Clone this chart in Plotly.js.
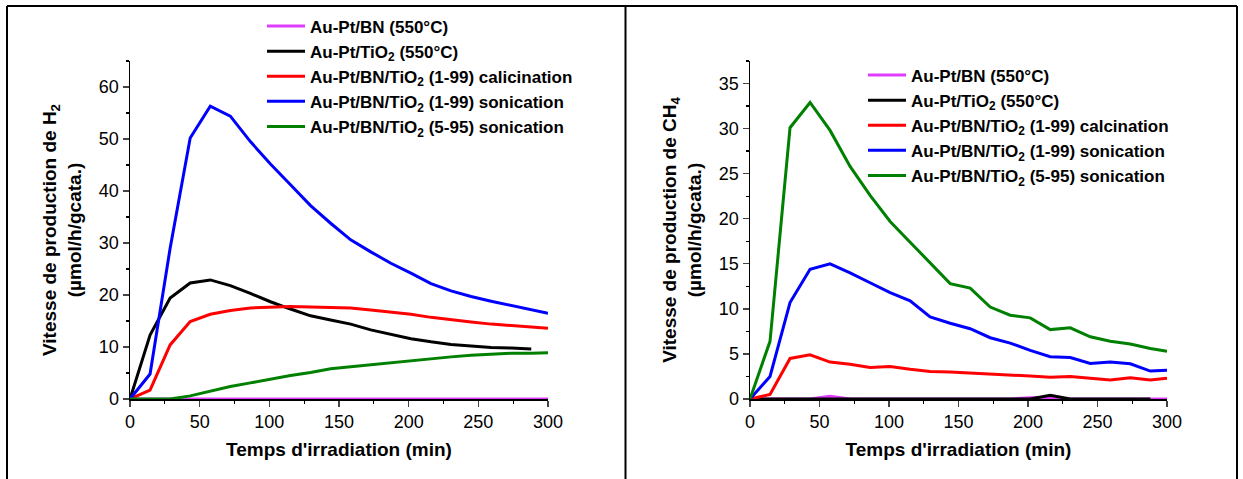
<!DOCTYPE html>
<html>
<head>
<meta charset="utf-8">
<script src="https://cdn.plot.ly/plotly-3.0.1.min.js"></script>
<style>
  html, body { margin: 0; padding: 0; background: #ffffff; }
  #chart { width: 1243px; height: 479px; }
</style>
</head>
<body>
<div id="chart"></div>
<script>
// ---- Data ----
// Irradiation times (min)
const times = [0, 14.4, 28.8, 43.2, 57.6, 72, 86.4, 100.8, 115.2, 129.6, 144, 158.4, 172.8, 187.2, 201.6, 216, 230.4, 244.8, 259.2, 273.6, 288, 300];

const seriesNames = [
  "Au-Pt/BN (550°C)",
  "Au-Pt/TiO<sub>2</sub> (550°C)",
  "Au-Pt/BN/TiO<sub>2</sub> (1-99) calicination",
  "Au-Pt/BN/TiO<sub>2</sub> (1-99) sonication",
  "Au-Pt/BN/TiO<sub>2</sub> (5-95) sonication"
];
const seriesNamesCH4 = [
  "Au-Pt/BN (550°C)",
  "Au-Pt/TiO<sub>2</sub> (550°C)",
  "Au-Pt/BN/TiO<sub>2</sub> (1-99) calcination",
  "Au-Pt/BN/TiO<sub>2</sub> (1-99) sonication",
  "Au-Pt/BN/TiO<sub>2</sub> (5-95) sonication"
];
const seriesColors = ["#e03cff", "#000000", "#ff0000", "#0000ff", "#008000"];

// H2 production rate (µmol/h/gcata.)
const h2_BN      = [0, 0, 0, 0, 0, 0, 0, 0, 0, 0, 0, 0, 0, 0, 0, 0, 0, 0, 0, 0, 0, 0];
const h2_TiO2    = [0, 12.3, 19.4, 22.3, 22.9, 21.8, 20.3, 18.7, 17.3, 16.0, 15.2, 14.4, 13.3, 12.4, 11.6, 11.0, 10.5, 10.2, 9.9, 9.8, 9.6];
const h2_calc199 = [0, 1.7, 10.4, 14.9, 16.3, 17.0, 17.5, 17.7, 17.8, 17.7, 17.6, 17.5, 17.1, 16.7, 16.3, 15.7, 15.2, 14.8, 14.4, 14.1, 13.8, 13.6];
const h2_son199  = [0, 4.8, 29.0, 50.2, 56.3, 54.4, 49.5, 45.2, 41.2, 37.2, 33.8, 30.6, 28.3, 26.1, 24.2, 22.2, 20.8, 19.7, 18.8, 18.0, 17.2, 16.5];
const h2_son595  = [0, 0, 0, 0.6, 1.5, 2.4, 3.1, 3.85, 4.5, 5.1, 5.8, 6.2, 6.6, 7.0, 7.4, 7.8, 8.1, 8.4, 8.6, 8.8, 8.8, 8.9];

// CH4 production rate (µmol/h/gcata.)
const ch4_BN      = [0, 0, 0, 0, 0.3, 0, 0, 0, 0, 0, 0, 0, 0, 0, 0.15, 0.2, 0, 0, 0, 0, 0, 0];
const ch4_TiO2    = [0, 0, 0, 0, 0, 0, 0, 0, 0, 0, 0, 0, 0, 0, 0, 0.4, 0, 0, 0, 0, 0];
const ch4_calc199 = [0, 0.5, 4.5, 4.9, 4.1, 3.85, 3.5, 3.6, 3.3, 3.05, 3.0, 2.9, 2.8, 2.65, 2.55, 2.4, 2.5, 2.3, 2.1, 2.35, 2.1, 2.3];
const ch4_son199  = [0, 2.5, 10.7, 14.4, 15.0, 14.0, 12.9, 11.8, 10.9, 9.1, 8.4, 7.8, 6.8, 6.2, 5.4, 4.7, 4.6, 3.95, 4.1, 3.9, 3.1, 3.2];
const ch4_son595  = [0, 6.4, 30.1, 32.9, 29.8, 25.8, 22.6, 19.7, 17.4, 15.1, 12.8, 12.3, 10.2, 9.3, 9.0, 7.7, 7.9, 6.9, 6.4, 6.1, 5.6, 5.3];

const xTickVals = [0, 50, 100, 150, 200, 250, 300];
const yTickValsH2 = [0, 10, 20, 30, 40, 50, 60];
const yTickValsCH4 = [0, 5, 10, 15, 20, 25, 30, 35];

// ---- Figure ----
const W = 1243, H = 479;
const px = v => v / W;
const py = v => 1 - v / H;

const h2Series = [h2_BN, h2_TiO2, h2_calc199, h2_son199, h2_son595];
const ch4Series = [ch4_BN, ch4_TiO2, ch4_calc199, ch4_son199, ch4_son595];

const traces = [];
h2Series.forEach((vals, i) => {
  traces.push({
    type: "scatter", mode: "lines",
    x: times.slice(0, vals.length), y: vals,
    name: seriesNames[i],
    line: { color: seriesColors[i], width: 3 },
    xaxis: "x", yaxis: "y", legend: "legend"
  });
});
ch4Series.forEach((vals, i) => {
  traces.push({
    type: "scatter", mode: "lines",
    x: times.slice(0, vals.length), y: vals,
    name: seriesNamesCH4[i],
    line: { color: seriesColors[i], width: 3 },
    xaxis: "x2", yaxis: "y2", legend: "legend2"
  });
});

const tickFont = { family: "Liberation Sans Narrow, Liberation Sans, Arial, sans-serif", size: 18, color: "#000" };
const titleFont = { family: "Liberation Sans, Arial, sans-serif", size: 19, color: "#000", weight: "bold" };
const legendFont = { family: "Liberation Sans, Arial, sans-serif", size: 17, color: "#000", weight: "bold" };

function xAxis(domain, anchor) {
  return {
    domain: domain, anchor: anchor, range: [0, 300],
    tickvals: xTickVals, ticks: "outside", ticklen: 6, tickwidth: 1.3,
    minor: { ticks: "outside", ticklen: 3, dtick: 25, tickwidth: 1.3, tickcolor: "#000", showgrid: false },
    showline: true, linecolor: "#000", linewidth: 1.5, showgrid: false, zeroline: false,
    tickfont: tickFont,
    title: { text: "Temps d'irradiation (min)", font: titleFont, standoff: 11 },
    automargin: false, fixedrange: true
  };
}
function yAxis(range, tickvals, minorDtick, anchor, title) {
  return {
    domain: [py(399), py(61)], anchor: anchor, range: range,
    tickvals: tickvals, ticks: "outside", ticklen: 6, tickwidth: 1.3,
    minor: { ticks: "outside", ticklen: 3, dtick: minorDtick, tickwidth: 1.3, tickcolor: "#000", showgrid: false },
    showline: true, linecolor: "#000", linewidth: 1.5, showgrid: false, zeroline: false,
    tickfont: tickFont,
    title: { text: title, font: titleFont, standoff: 12 },
    automargin: false, fixedrange: true
  };
}

const borderLine = { color: "#000", width: 2 };
const layout = {
  width: W, height: H,
  margin: { l: 0, r: 0, t: 0, b: 0 },
  paper_bgcolor: "#ffffff", plot_bgcolor: "rgba(0,0,0,0)",
  font: { family: "Liberation Sans, Arial, sans-serif", color: "#000" },
  showlegend: true,
  xaxis: xAxis([px(130), px(548)], "y"),
  yaxis: yAxis([0, 65], yTickValsH2, 5, "x", "Vitesse de production de H<sub>2</sub><br>(µmol/h/gcata.)"),
  xaxis2: xAxis([px(750), px(1167)], "y2"),
  yaxis2: yAxis([0, 37.5], yTickValsCH4, 2.5, "x2", "Vitesse de production de CH<sub>4</sub><br>(µmol/h/gcata.)"),
  legend: {
    x: px(262), y: py(8.5), xanchor: "left", yanchor: "top",
    bgcolor: "rgba(0,0,0,0)", borderwidth: 0, itemwidth: 38,
    font: legendFont, tracegroupgap: 0
  },
  legend2: {
    x: px(863), y: py(57.5), xanchor: "left", yanchor: "top",
    bgcolor: "rgba(0,0,0,0)", borderwidth: 0, itemwidth: 38,
    font: legendFont, tracegroupgap: 0
  },
  shapes: [
    { type: "line", xref: "paper", yref: "paper", x0: px(7), x1: px(1237), y0: py(6), y1: py(6), line: borderLine },
    { type: "line", xref: "paper", yref: "paper", x0: px(7), x1: px(7), y0: py(6), y1: py(490), line: borderLine },
    { type: "line", xref: "paper", yref: "paper", x0: px(625.5), x1: px(625.5), y0: py(6), y1: py(490), line: borderLine },
    { type: "line", xref: "paper", yref: "paper", x0: px(1237), x1: px(1237), y0: py(6), y1: py(490), line: borderLine }
  ]
};

Plotly.newPlot("chart", traces, layout, { displayModeBar: false, staticPlot: true });
</script>
</body>
</html>
